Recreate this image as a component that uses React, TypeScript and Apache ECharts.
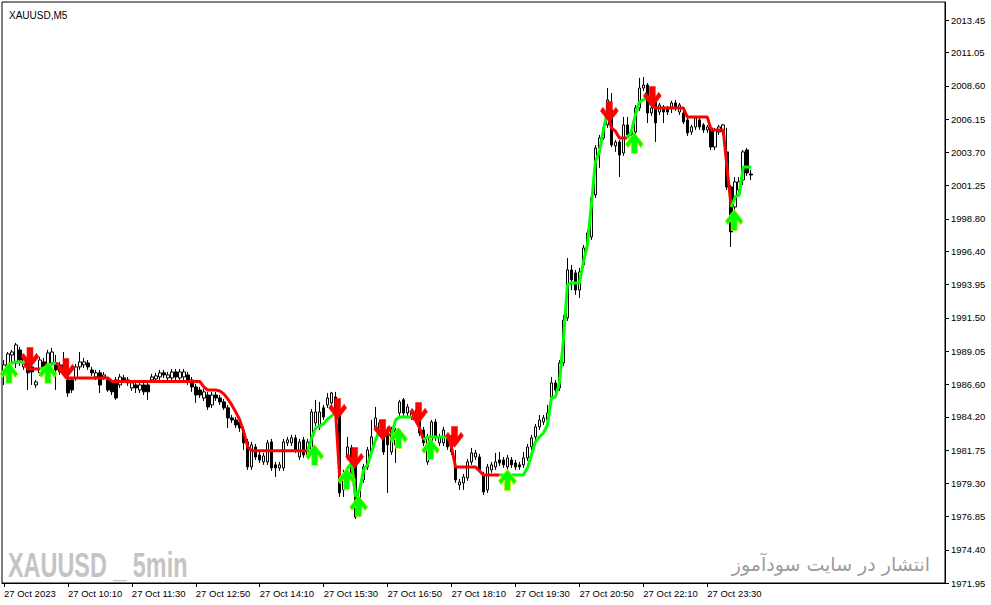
import React, { useEffect, useRef } from 'react';
import * as echarts from 'echarts';

const FONT = '"Liberation Sans", Arial, sans-serif';

// ---- axis labels ----
const yTickLabels = ['1971.95', '1974.40', '1976.85', '1979.30', '1981.75', '1984.20', '1986.60', '1989.05', '1991.50', '1993.95', '1996.40', '1998.80', '2001.25', '2003.70', '2006.15', '2008.60', '2011.05', '2013.45'];
const xTickLabels = ['27 Oct 2023', '27 Oct 10:10', '27 Oct 11:30', '27 Oct 12:50', '27 Oct 14:10', '27 Oct 15:30', '27 Oct 16:50', '27 Oct 18:10', '27 Oct 19:30', '27 Oct 20:50', '27 Oct 22:10', '27 Oct 23:30'];
const X_TICK_STEP = 16; // bars between time labels (80 min of M5 bars)
const SLOT_COUNT = 236; // bar slots across the plot (incl. empty right shift)
const Y_MIN = 1971.95;
const Y_MAX = 2014.78;

// ---- candles (M5) ----
const opens = [1987.29, 1987.95, 1988.76, 1988.17, 1989.13, 1987.88, 1988.25, 1987.88, 1986.55, 1987.44, 1988.25, 1987.88, 1988.17, 1988.17, 1987.51, 1988.03, 1986.92, 1986.92, 1987.07, 1987.88, 1988.03, 1988.17, 1987.66, 1987.14, 1987.44, 1987.14, 1986.92, 1986.77, 1986.92, 1986.55, 1987.07, 1986.92, 1986.33, 1986.55, 1986.18, 1986.55, 1986.55, 1986.92, 1986.99, 1987.14, 1987.44, 1987.07, 1987.07, 1987.51, 1987.07, 1987.14, 1987.29, 1986.92, 1986.40, 1986.18, 1985.59, 1985.81, 1985.08, 1985.81, 1985.59, 1985.30, 1984.86, 1984.12, 1983.97, 1983.82, 1983.23, 1982.35, 1980.51, 1981.98, 1981.39, 1980.88, 1980.88, 1982.35, 1980.66, 1980.43, 1980.43, 1982.28, 1982.28, 1982.65, 1981.24, 1982.50, 1981.39, 1981.61, 1983.75, 1983.46, 1984.86, 1985.08, 1985.23, 1985.67, 1984.34, 1978.81, 1981.24, 1981.91, 1980.80, 1978.07, 1979.55, 1980.51, 1981.61, 1983.46, 1983.23, 1983.75, 1983.09, 1981.61, 1982.13, 1984.49, 1985.45, 1984.49, 1984.19, 1984.49, 1983.97, 1983.23, 1980.88, 1982.28, 1983.82, 1982.28, 1982.28, 1982.72, 1982.13, 1980.51, 1979.18, 1979.33, 1979.70, 1980.88, 1981.24, 1981.24, 1979.92, 1978.81, 1980.29, 1980.51, 1981.02, 1981.02, 1980.51, 1981.02, 1980.80, 1980.66, 1980.66, 1981.17, 1981.98, 1982.72, 1983.46, 1983.82, 1983.97, 1985.67, 1986.70, 1986.33, 1988.17, 1991.49, 1995.03, 1994.81, 1993.55, 1995.40, 1996.87, 1997.46, 2000.56, 2004.02, 2004.76, 2005.72, 2006.82, 2004.17, 2004.46, 2003.65, 2005.72, 2004.98, 2005.20, 2006.97, 2008.44, 2008.66, 2006.60, 2007.56, 2006.67, 2007.04, 2006.97, 2007.04, 2007.34, 2006.67, 2006.60, 2006.09, 2005.20, 2005.57, 2006.09, 2005.72, 2005.35, 2005.50, 2004.09, 2005.20, 2005.20, 2003.73, 2001.15, 1999.67, 2000.93, 2001.66, 2003.87, 2002.10];
const closes = [1988.03, 1988.84, 1988.98, 1989.50, 1988.39, 1988.54, 1987.44, 1987.51, 1986.77, 1988.39, 1987.80, 1988.91, 1988.98, 1987.66, 1988.03, 1987.44, 1985.96, 1986.18, 1987.88, 1988.25, 1988.25, 1987.88, 1987.44, 1987.44, 1986.55, 1987.29, 1986.18, 1986.04, 1985.59, 1987.14, 1986.92, 1986.70, 1986.70, 1986.33, 1986.55, 1986.04, 1986.04, 1987.14, 1987.22, 1987.44, 1987.29, 1987.29, 1987.51, 1987.14, 1987.51, 1987.51, 1986.77, 1986.40, 1985.81, 1985.81, 1986.04, 1984.93, 1985.81, 1985.59, 1985.30, 1984.86, 1984.12, 1983.97, 1983.60, 1983.38, 1982.28, 1980.51, 1982.13, 1981.24, 1981.02, 1981.32, 1982.28, 1980.43, 1980.43, 1980.66, 1982.35, 1982.50, 1982.65, 1981.76, 1982.35, 1981.39, 1982.35, 1984.56, 1984.56, 1984.56, 1984.19, 1985.59, 1985.96, 1984.49, 1978.59, 1979.70, 1981.98, 1979.77, 1976.82, 1978.81, 1980.51, 1981.76, 1982.72, 1984.12, 1983.75, 1981.61, 1982.13, 1983.23, 1983.23, 1985.30, 1984.49, 1984.93, 1984.49, 1983.97, 1983.01, 1982.28, 1982.72, 1983.82, 1982.65, 1982.72, 1983.23, 1981.98, 1981.61, 1979.55, 1979.40, 1979.77, 1980.88, 1981.54, 1981.54, 1980.29, 1978.66, 1980.51, 1980.66, 1980.88, 1980.80, 1980.66, 1981.17, 1980.66, 1980.51, 1980.51, 1981.17, 1981.98, 1982.65, 1983.46, 1983.97, 1984.12, 1984.49, 1986.70, 1986.18, 1988.17, 1991.34, 1995.03, 1994.29, 1993.55, 1994.88, 1996.65, 1997.76, 2000.34, 2004.02, 2004.76, 2005.50, 2007.56, 2004.24, 2004.46, 2003.50, 2005.72, 2004.98, 2005.20, 2006.97, 2008.44, 2008.66, 2006.60, 2006.97, 2005.86, 2007.19, 2006.67, 2006.67, 2007.34, 2006.97, 2007.19, 2005.94, 2005.13, 2005.57, 2006.23, 2005.57, 2005.35, 2005.57, 2004.09, 2005.35, 2005.57, 2005.72, 2001.15, 1997.83, 2001.52, 2001.52, 2003.73, 2002.18, 2002.03];
const lows = [1986.55, 1987.80, 1988.17, 1987.80, 1987.95, 1987.66, 1986.18, 1986.55, 1986.33, 1987.22, 1987.51, 1987.66, 1987.95, 1986.18, 1987.29, 1987.22, 1985.67, 1985.96, 1986.85, 1987.66, 1987.80, 1987.66, 1987.22, 1986.92, 1985.96, 1986.92, 1986.04, 1985.81, 1985.45, 1986.33, 1986.70, 1986.48, 1986.11, 1985.96, 1985.96, 1985.81, 1985.45, 1986.70, 1986.77, 1986.92, 1987.07, 1986.85, 1986.85, 1986.92, 1986.85, 1986.92, 1986.55, 1986.04, 1985.23, 1985.59, 1985.37, 1984.71, 1984.86, 1985.37, 1985.08, 1984.71, 1983.38, 1983.75, 1983.38, 1983.09, 1981.76, 1980.29, 1980.29, 1981.02, 1980.80, 1980.66, 1980.66, 1980.21, 1979.77, 1980.21, 1980.21, 1982.05, 1982.05, 1981.54, 1981.02, 1981.17, 1981.17, 1981.39, 1983.53, 1983.23, 1983.97, 1984.86, 1985.00, 1984.27, 1978.30, 1978.30, 1981.02, 1979.55, 1976.67, 1976.82, 1979.33, 1980.29, 1981.39, 1983.23, 1983.01, 1981.39, 1978.59, 1981.39, 1980.80, 1984.27, 1984.27, 1984.27, 1983.97, 1983.75, 1982.79, 1982.05, 1980.66, 1982.05, 1982.42, 1982.05, 1982.05, 1981.76, 1981.39, 1979.33, 1978.81, 1978.81, 1979.48, 1980.66, 1981.02, 1980.07, 1978.44, 1978.59, 1980.07, 1980.29, 1980.58, 1980.43, 1980.29, 1980.43, 1980.29, 1980.29, 1980.43, 1980.95, 1981.76, 1982.50, 1983.23, 1983.60, 1983.75, 1985.45, 1985.96, 1986.11, 1987.95, 1991.27, 1993.55, 1993.19, 1992.96, 1995.18, 1996.50, 1997.24, 2000.34, 2002.55, 2004.61, 2005.50, 2004.09, 2003.73, 2001.88, 2003.43, 2004.76, 2004.76, 2004.98, 2006.75, 2008.22, 2005.86, 2006.38, 2004.46, 2006.45, 2005.86, 2006.45, 2006.60, 2006.75, 2006.45, 2005.79, 2004.91, 2004.98, 2005.35, 2005.35, 2005.13, 2005.13, 2003.87, 2003.87, 2004.98, 2004.98, 2000.93, 1996.72, 1999.30, 2000.56, 2001.29, 2001.96, 2001.66];
const highs = [1988.39, 1988.98, 1989.13, 1989.65, 1989.35, 1988.76, 1988.76, 1988.39, 1986.92, 1988.62, 1988.54, 1989.13, 1989.28, 1988.76, 1988.25, 1988.98, 1987.66, 1987.14, 1988.10, 1988.98, 1988.54, 1988.39, 1987.88, 1987.66, 1987.66, 1987.51, 1987.14, 1986.99, 1987.14, 1987.36, 1987.29, 1987.14, 1986.92, 1986.77, 1986.77, 1986.77, 1986.77, 1987.36, 1987.44, 1987.66, 1987.66, 1987.51, 1987.73, 1987.73, 1987.73, 1987.73, 1987.51, 1987.14, 1986.63, 1986.40, 1986.26, 1986.04, 1986.04, 1986.04, 1985.81, 1985.52, 1985.08, 1984.34, 1984.19, 1984.05, 1983.46, 1982.57, 1982.35, 1982.20, 1981.61, 1981.54, 1982.50, 1982.57, 1980.88, 1980.88, 1982.57, 1982.72, 1982.87, 1982.87, 1982.57, 1982.72, 1982.57, 1984.78, 1985.45, 1985.30, 1985.08, 1985.96, 1986.04, 1986.04, 1984.49, 1980.29, 1982.72, 1982.13, 1981.02, 1979.18, 1980.73, 1981.98, 1983.97, 1984.93, 1983.97, 1983.97, 1983.46, 1983.46, 1983.38, 1985.45, 1985.59, 1985.15, 1984.71, 1984.71, 1984.19, 1983.46, 1982.94, 1983.97, 1984.05, 1982.94, 1983.46, 1982.94, 1982.87, 1981.76, 1979.62, 1979.99, 1981.10, 1981.91, 1981.76, 1981.47, 1980.14, 1980.73, 1980.88, 1981.54, 1981.61, 1981.24, 1981.39, 1981.24, 1981.02, 1980.88, 1981.61, 1982.20, 1982.87, 1983.68, 1984.34, 1984.34, 1985.08, 1987.14, 1986.92, 1988.39, 1991.71, 1995.91, 1995.40, 1995.03, 1995.18, 1996.87, 1997.98, 2000.56, 2004.24, 2004.98, 2005.72, 2008.44, 2008.07, 2004.61, 2004.61, 2006.31, 2006.31, 2005.50, 2007.19, 2009.18, 2009.25, 2008.81, 2007.34, 2007.71, 2007.34, 2007.19, 2007.12, 2007.49, 2007.56, 2007.34, 2006.75, 2006.23, 2005.72, 2006.38, 2006.23, 2005.86, 2005.72, 2005.64, 2005.50, 2005.72, 2005.79, 2005.50, 2001.29, 2001.88, 2001.88, 2003.87, 2004.02, 2002.40];

// ---- trailing-stop indicator: [first bar index, values] ----
const greenSegments: [number, number[]][] = [
  [0, [1987.51, 1987.95, 1988.17, 1988.25, 1988.25, 1988.17]],
  [9, [1987.73, 1987.80, 1987.95, 1988.10, 1988.17]],
  [76, [1981.69, 1982.65, 1983.38, 1983.53, 1983.68, 1984.05, 1984.27, 1984.49]],
  [85, [1979.77, 1980.43, 1980.80]],
  [88, [1978.30, 1978.81, 1980.29, 1980.66, 1981.61, 1982.50, 1983.23]],
  [97, [1982.87, 1983.97, 1984.19, 1984.19, 1984.19, 1984.19]],
  [105, [1982.50, 1982.72, 1982.72, 1982.72, 1982.72, 1982.72, 1982.72]],
  [124, [1979.92, 1979.92, 1979.92, 1979.92, 1979.92, 1979.92, 1979.92, 1980.43, 1981.39, 1982.35, 1982.72, 1983.01, 1983.60, 1985.59, 1985.67, 1986.70, 1989.87, 1993.92, 1994.07, 1994.07, 1994.07, 1995.62, 1996.87, 1999.82, 2002.99, 2003.73, 2005.35, 2006.67]],
  [156, [2004.76, 2005.20, 2006.45, 2007.41, 2007.56, 2007.78]],
  [182, [1999.67, 2000.41, 2000.56, 2002.62, 2002.62, 2002.62]],
];
const redSegments: [number, number[]][] = [
  [5, [1988.17, 1987.73, 1987.73, 1987.73, 1987.73]],
  [13, [1988.17, 1987.95, 1987.51,
    1987.07, 1987.07, 1987.07, 1987.07, 1987.07, 1987.07, 1987.07, 1987.07, 1987.07, 1987.07, 1987.07,
    1986.81, 1986.81, 1986.81, 1986.81, 1986.81, 1986.81, 1986.81, 1986.81, 1986.81, 1986.81, 1986.81, 1986.81,
    1986.81, 1986.81, 1986.81, 1986.81, 1986.81, 1986.81, 1986.81, 1986.81, 1986.81, 1986.81, 1986.81,
    1986.40, 1986.18, 1986.18, 1986.18, 1986.11, 1985.89, 1985.52, 1985.08, 1984.56, 1983.97, 1983.09, 1981.98,
    1981.69, 1981.69, 1981.69, 1981.69, 1981.69, 1981.69, 1981.69, 1981.69, 1981.69, 1981.69, 1981.69, 1981.69, 1981.69, 1981.69, 1981.69]],
  [83, [1984.49, 1979.77, 1979.77]],
  [87, [1980.80, 1978.30]],
  [94, [1983.23, 1982.87, 1982.87, 1982.87]],
  [102, [1984.19, 1983.97, 1983.38, 1982.50]],
  [111, [1982.72, 1981.98, 1980.51, 1980.51, 1980.51, 1980.51, 1980.51, 1980.51, 1980.21, 1979.92, 1979.92, 1979.92, 1979.92, 1979.92]],
  [151, [2006.67, 2005.50, 2005.27, 2004.76, 2004.76, 2004.76]],
  [161, [2007.78, 2007.19, 2006.97, 2006.97, 2006.97, 2006.97, 2006.97, 2006.97, 2006.97, 2006.97, 2006.31, 2006.31, 2006.31, 2006.31, 2006.31, 2006.31, 2005.35, 2005.35, 2005.35, 2005.35, 2002.40, 1999.67]],
];

// ---- signal arrows: [bar position, price] ----
const upArrows = [[1.25, 1987.44], [11, 1987.44], [77.75, 1981.39], [85.75, 1979.62], [88.75, 1977.63], [98.75, 1982.65], [106.75, 1981.83], [126, 1979.55], [157.75, 2004.39], [182.75, 1998.71]];
const downArrows = [[6.5, 1988.54], [15.5, 1987.73], [83.5, 1984.78], [87.75, 1981.17], [94.75, 1983.23], [103.75, 1984.49], [112.75, 1982.72], [151.5, 2006.67], [162.25, 2007.78]];

const DOWN_PATH = 'path://M6,0 L12,0 L12,10 L15.5,5.5 L18,9 L9,20 L0,9 L2.5,5.5 L6,10 Z';
const UP_PATH = 'path://M6,20 L12,20 L12,10 L15.5,14.5 L18,11 L9,0 L0,11 L2.5,14.5 L6,10 Z';

function buildLine(segments: [number, number[]][], n: number) {
  const out: (number | null)[] = new Array(n).fill(null);
  segments.forEach(([start, vals]) => {
    vals.forEach((v, k) => {
      out[start + k] = v;
    });
  });
  return out;
}

export default function App() {
  const ref = useRef<HTMLDivElement>(null);

  useEffect(() => {
    if (!ref.current) return;
    const chart = echarts.init(ref.current, null, { renderer: 'svg' });
    const n = opens.length;
    const candles = opens.map((o, i) => [o, closes[i], lows[i], highs[i]]);
    const categories = Array.from({ length: SLOT_COUNT }, (_, i) => String(i));
    const isLabel = (i: number) => i % X_TICK_STEP === 0 && i / X_TICK_STEP < xTickLabels.length;
    const yTickValues = yTickLabels.map(Number);

    const option: any = {
      animation: false,
      backgroundColor: '#ffffff',
      title: {
        text: 'XAUUSD,M5',
        left: 4,
        top: 5,
        textStyle: { fontSize: 10, fontWeight: 'normal', fontFamily: FONT, color: '#000' },
      },
      grid: {
        left: 2,
        top: 2,
        right: 46,
        bottom: 22,
        show: true,
        borderColor: '#000',
        borderWidth: 1,
        containLabel: false,
      },
      xAxis: [
        {
          type: 'category',
          data: categories,
          boundaryGap: true,
          axisLine: { show: true, onZero: false, lineStyle: { color: '#000', width: 1 } },
          axisTick: {
            show: true,
            alignWithLabel: true,
            interval: (i: number) => isLabel(i),
            length: 4,
            lineStyle: { color: '#000' },
          },
          axisLabel: {
            interval: (i: number) => isLabel(i),
            formatter: (_v: string, i: number) => xTickLabels[Math.round(i / X_TICK_STEP)] ?? '',
            align: 'left',
            margin: 5,
            color: '#000',
            fontSize: 9.5,
            fontFamily: FONT,
          },
          splitLine: { show: false },
        },
        { type: 'value', min: -0.5, max: SLOT_COUNT - 0.5, show: false },
      ],
      yAxis: {
        type: 'value',
        position: 'right',
        min: Y_MIN,
        max: Y_MAX,
        axisLine: { show: true, onZero: false, lineStyle: { color: '#000', width: 1 } },
        axisTick: { show: true, length: 4, customValues: yTickValues, lineStyle: { color: '#000' } },
        axisLabel: {
          customValues: yTickValues,
          formatter: (v: number) => {
            let best = 0;
            yTickValues.forEach((t, k) => {
              if (Math.abs(t - v) < Math.abs(yTickValues[best] - v)) best = k;
            });
            return yTickLabels[best];
          },
          margin: 6,
          color: '#000',
          fontSize: 9.5,
          fontFamily: FONT,
        },
        splitLine: { show: false },
      },
      graphic: [
        {
          type: 'text',
          x: 8,
          y: 565,
          scaleX: 0.65,
          z: 0,
          style: {
            text: 'XAUUSD _ 5min',
            fontSize: 36,
            fontWeight: 'bold',
            fontFamily: FONT,
            fill: '#c4c4c4',
            verticalAlign: 'middle',
          },
        },
        {
          type: 'text',
          x: 930,
          y: 564,
          z: 0,
          style: {
            text: 'انتشار در سایت سودآموز',
            fontSize: 19,
            fontFamily: '"DejaVu Sans", "Noto Sans", sans-serif',
            fill: '#9c9c9c',
            align: 'right',
            verticalAlign: 'middle',
          },
        },
      ],
      series: [
        {
          type: 'candlestick',
          data: candles,
          barWidth: 3,
          itemStyle: {
            color: '#ffffff',
            color0: '#000000',
            borderColor: '#000000',
            borderColor0: '#000000',
            borderWidth: 1,
          },
          z: 2,
        },
        {
          type: 'line',
          data: buildLine(redSegments, n),
          symbol: 'none',
          connectNulls: false,
          lineStyle: { color: '#ff0000', width: 3 },
          z: 3,
        },
        {
          type: 'line',
          data: buildLine(greenSegments, n),
          symbol: 'none',
          connectNulls: false,
          lineStyle: { color: '#00ff00', width: 3 },
          z: 3,
        },
        {
          type: 'scatter',
          xAxisIndex: 1,
          data: downArrows,
          symbol: DOWN_PATH,
          symbolSize: [18, 21],
          itemStyle: { color: '#ff0000', borderColor: '#e01010', borderWidth: 0.5, opacity: 1 },
          z: 4,
        },
        {
          type: 'scatter',
          xAxisIndex: 1,
          data: upArrows,
          symbol: UP_PATH,
          symbolSize: [18, 21],
          itemStyle: { color: '#00ff00', borderColor: '#c8f000', borderWidth: 0.8, opacity: 1 },
          z: 4,
        },
      ],
    };

    chart.setOption(option);
    return () => chart.dispose();
  }, []);

  return (
    <div
      ref={ref}
      style={{ position: 'fixed', left: 0, top: 0, width: 991, height: 605, background: '#fff' }}
    />
  );
}
